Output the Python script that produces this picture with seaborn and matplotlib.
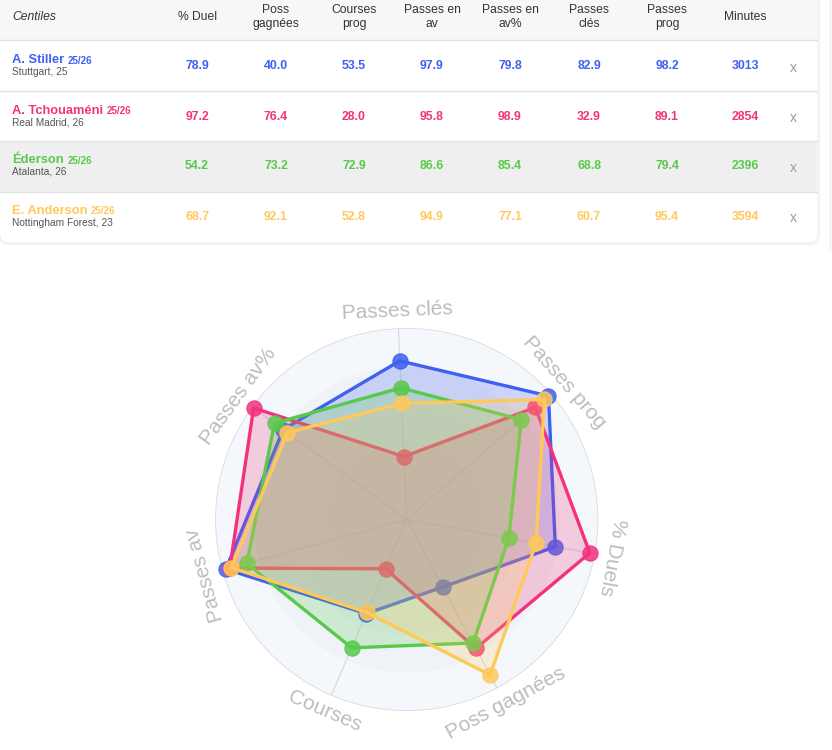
"""
Radar comparison of four midfielders (centiles), with the summary table above.
"""

import numpy as np
import pandas as pd
import matplotlib
matplotlib.use("Agg")
import matplotlib.pyplot as plt
from matplotlib.patches import Rectangle, FancyBboxPatch
import seaborn as sns


PLAYERS = ["A. Stiller", "A. Tchouaméni", "Éderson", "E. Anderson"]
SEASONS = ["25/26", "25/26", "25/26", "25/26"]
CLUBS = ["Stuttgart, 25", "Real Madrid, 26", "Atalanta, 26", "Nottingham Forest, 23"]
COLORS = ["#3f60f0", "#f2327b", "#58c94a", "#ffc95a"]

TABLE_HEADERS = ["% Duel", "Poss\ngagnées", "Courses\nprog", "Passes en\nav",
                 "Passes en\nav%", "Passes\nclés", "Passes\nprog", "Minutes"]

DUEL = [78.9, 97.2, 54.2, 68.7]
POSS_GAGNEES = [40.0, 76.4, 73.2, 92.1]
COURSES_PROG = [53.5, 28.0, 72.9, 52.8]
PASSES_AV = [97.9, 95.8, 86.6, 94.9]
PASSES_AV_PCT = [79.8, 98.9, 85.4, 77.1]
PASSES_CLES = [82.9, 32.9, 68.8, 60.7]
PASSES_PROG = [98.2, 89.1, 79.4, 95.4]
MINUTES = [3013, 2854, 2396, 3594]

# clockwise from the top
RADAR_LABELS = ["Passes clés", "Passes prog", "% Duels", "Poss gagnées",
                "Courses", "Passes av", "Passes av%"]
RADAR_SERIES = [PASSES_CLES, PASSES_PROG, DUEL, POSS_GAGNEES,
                COURSES_PROG, PASSES_AV, PASSES_AV_PCT]

FONT = ["Liberation Sans", "DejaVu Sans"]


def draw_table(fig: plt.Figure) -> None:
    """
    Draw the stats table in pixel coordinates.
    """

    ax = fig.add_axes([0, 0, 1, 1])
    ax.set_xlim(0, 832)
    ax.set_ylim(750, 0)
    ax.axis("off")

    # soft shadow under the card
    for k, a in enumerate([0.05, 0.035, 0.02]):
        ax.add_patch(FancyBboxPatch((0, -20), 817 + k + 1, 262 + k + 1,
                                    boxstyle="round,pad=0,rounding_size=9",
                                    facecolor="none", edgecolor="black",
                                    alpha=a, lw=1))
    card = FancyBboxPatch((0, -20), 817, 262,
                          boxstyle="round,pad=0,rounding_size=8",
                          facecolor="white", edgecolor="none")
    ax.add_patch(card)
    ax.add_patch(Rectangle((0, 0), 817, 39.5, facecolor="#f7f7f7", lw=0))
    ax.add_patch(Rectangle((0, 141), 817, 50.5, facecolor="#efefef", lw=0))
    for y in [39.5, 90.5, 141, 191.5]:
        ax.plot([0, 817], [y, y], color="#e2e2e2", lw=1)
    ax.plot([830, 830], [0, 250], color="#eeeeee", lw=1)

    ax.text(12, 17, "Centiles", fontsize=8.7, style="italic", color="#333333",
            va="center", ha="left", family=FONT)

    col_x = [197, 276, 354, 432, 510, 589, 667, 745]
    for x, header in zip(col_x, TABLE_HEADERS):
        ax.text(x, 17, header, fontsize=8.7, color="#333333", ha="center",
                va="center", linespacing=1.15, family=FONT)

    columns = [DUEL, POSS_GAGNEES, COURSES_PROG, PASSES_AV,
               PASSES_AV_PCT, PASSES_CLES, PASSES_PROG, MINUTES]
    row_y = [66, 116.5, 166, 216.5]
    fig.canvas.draw()
    for i, y in enumerate(row_y):
        name = ax.text(12, y - 6, PLAYERS[i], fontsize=9.3, fontweight="bold",
                       color=COLORS[i], ha="left", va="center", family=FONT)
        bb = name.get_window_extent(renderer=fig.canvas.get_renderer())
        x_end = ax.transData.inverted().transform((bb.x1, bb.y0))[0]
        ax.text(x_end + 3.5, y - 5.5, SEASONS[i], fontsize=7, fontweight="bold",
                color=COLORS[i], ha="left", va="center", family=FONT)
        ax.text(12, y + 6, CLUBS[i], fontsize=7.3, color="#555555",
                ha="left", va="center", family=FONT)
        for x, col in zip(col_x, columns):
            value = col[i]
            label = f"{value}" if isinstance(value, int) else f"{value:.1f}"
            ax.text(x, y, label, fontsize=8.8, fontweight="bold",
                    color=COLORS[i], ha="center", va="center", family=FONT)
        ax.text(793, y + 2, "x", fontsize=10, color="#9a9a9a",
                ha="center", va="center", family=FONT)


def draw_radar(fig: plt.Figure) -> None:
    """
    Draw the radar chart on a polar axes.
    """

    cx, cy, radius = 406.7, 519.5, 191.5
    ax = fig.add_axes([(cx - radius) / 832, (750 - cy - radius) / 750,
                       2 * radius / 832, 2 * radius / 750],
                      projection="polar")
    offset = 92.5
    ax.set_theta_offset(np.deg2rad(offset))
    ax.set_theta_direction(-1)
    ax.set_ylim(0, 100)
    ax.grid(False)
    ax.set_xticks([])
    ax.set_yticks([])
    ax.spines["polar"].set_visible(False)
    ax.patch.set_alpha(0)

    n = len(RADAR_LABELS)
    theta = np.arange(n) * 2 * np.pi / n
    theta_closed = np.append(theta, 2 * np.pi)

    # background rings
    ring = np.linspace(0, 2 * np.pi, 400)
    for r, color in [(100, "#f4f7fc"), (80, "#eff2f7"), (60, "#eceff4"), (40, "#eaedf2")]:
        ax.fill(ring, np.full_like(ring, r), color=color, lw=0, zorder=0)
    ax.plot(ring, np.full_like(ring, 100), color="#d9d9d9", lw=1.1, zorder=1)
    for t in theta:
        ax.plot([t, t], [0, 100], color="#dadada", lw=0.9, zorder=1)

    for i in range(len(PLAYERS)):
        values = np.array([serie[i] for serie in RADAR_SERIES])
        closed = np.append(values, values[0])
        base = 2 + 3 * i
        ax.fill(theta_closed, closed, color=COLORS[i], alpha=0.22,
                lw=0, zorder=base)
        sns.lineplot(x=theta_closed, y=closed, sort=False, estimator=None,
                     color=COLORS[i], lw=2.4, ax=ax, zorder=base + 1,
                     clip_on=False, solid_joinstyle="round")
        sns.scatterplot(x=theta, y=values, color=COLORS[i], s=120,
                        edgecolor=COLORS[i], alpha=0.85, ax=ax,
                        zorder=base + 2, legend=False, clip_on=False)

    ax.set_xlabel("")
    ax.set_ylabel("")
    ax.set_ylim(0, 100)

    for t, label in zip(theta, RADAR_LABELS):
        screen = offset - np.rad2deg(t)
        rot = (screen - 90 + 180) % 360 - 180
        if abs(rot) > 120:
            rot = (rot + 360) % 360 - 180
        ax.text(t, 109, label, fontsize=15, color="#bdbdbd", rotation=rot,
                rotation_mode="anchor", ha="center", va="center",
                family=FONT, clip_on=False)


def main() -> None:
    """
    Build the figure and save it.
    """

    sns.set_theme(style="white")
    plt.rcParams["font.family"] = FONT

    fig = plt.figure(figsize=(8.32, 7.5), dpi=100)
    fig.patch.set_facecolor("white")
    draw_table(fig)
    draw_radar(fig)
    fig.savefig("out.png", dpi=100, facecolor="white")


if __name__ == "__main__":
    main()
